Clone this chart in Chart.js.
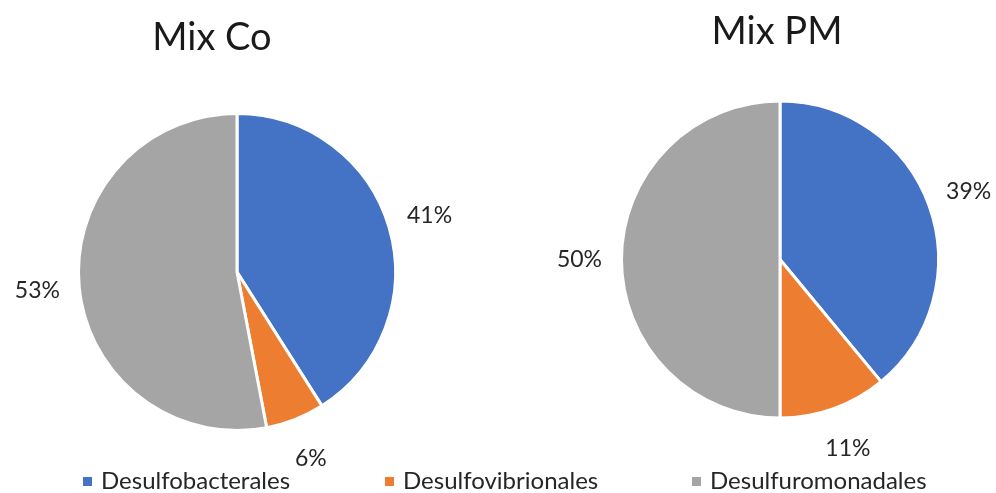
<!DOCTYPE html>
<html>
<head>
<meta charset="utf-8">
<script src="https://cdn.jsdelivr.net/npm/chart.js@4.4.1/dist/chart.umd.min.js"></script>
<style>
  body { margin: 0; background: #fff; font-family: Lato, "Open Sans", sans-serif; }
  #wrap { position: relative; width: 996px; height: 493px; overflow: hidden; }
  canvas { position: absolute; top: 0; }
  .title { position: absolute; font-size: 38px; color: #1a1a1a; transform: translateX(-50%); white-space: nowrap; }
  .leg { position: absolute; top: 465px; font-size: 24px; color: #262626; white-space: nowrap; }
  .leg i { display: inline-block; width: 9px; height: 9px; margin-right: 9px; vertical-align: 3px; }
</style>
</head>
<body>
<div id="wrap">
  <canvas id="pieCo" width="475" height="493" style="left:0"></canvas>
  <canvas id="piePM" width="521" height="493" style="left:475px"></canvas>
  <div class="title" style="left:212px; top:12px">Mix Co</div>
  <div class="title" style="left:777px; top:6px">Mix PM</div>
  <div id="legend"></div>
</div>
<script>
const categories = ['Desulfobacterales', 'Desulfovibrionales', 'Desulfuromonadales'];
const mixCo = [41, 6, 53];
const mixPM = [39, 11, 50];
const colors = ['#4472C4', '#ED7D31', '#A5A5A5'];

// percentage labels drawn just outside each slice
const outsideLabels = {
    id: 'outsideLabels',
    afterDatasetsDraw(chart) {
        const ctx = chart.ctx;
        const data = chart.data.datasets[0].data;
        ctx.save();
        ctx.font = '23px Lato, "Open Sans", sans-serif';
        ctx.fillStyle = '#262626';
        ctx.textAlign = 'center';
        ctx.textBaseline = 'middle';
        chart.getDatasetMeta(0).data.forEach((arc, i) => {
            const p = arc.getProps(['x', 'y', 'startAngle', 'endAngle', 'outerRadius'], true);
            const mid = (p.startAngle + p.endAngle) / 2;
            const r = p.outerRadius + 42;
            ctx.fillText(data[i] + '%', p.x + Math.cos(mid) * r, p.y + Math.sin(mid) * r);
        });
        ctx.restore();
    }
};

function makePie(id, values, padding) {
    return new Chart(document.getElementById(id), {
        type: 'pie',
        data: {
            labels: categories,
            datasets: [{
                data: values,
                backgroundColor: colors,
                borderColor: '#ffffff',
                borderWidth: 3,
                hoverOffset: 0
            }]
        },
        options: {
            responsive: false,
            animation: false,
            layout: { padding: padding },
            plugins: {
                legend: { display: false },
                tooltip: { enabled: false }
            }
        },
        plugins: [outsideLabels]
    });
}

makePie('pieCo', mixCo, { left: 77, right: 78, top: 111, bottom: 60 });
makePie('piePM', mixPM, { left: 145, right: 56, top: 98, bottom: 72 });

// legend
const legend = document.getElementById('legend');
const legendX = [83, 385, 692];
categories.forEach((name, i) => {
    const item = document.createElement('div');
    item.className = 'leg';
    item.style.left = legendX[i] + 'px';
    item.innerHTML = '<i style="background:' + colors[i] + '"></i>' + name;
    legend.appendChild(item);
});
</script>
</body>
</html>
